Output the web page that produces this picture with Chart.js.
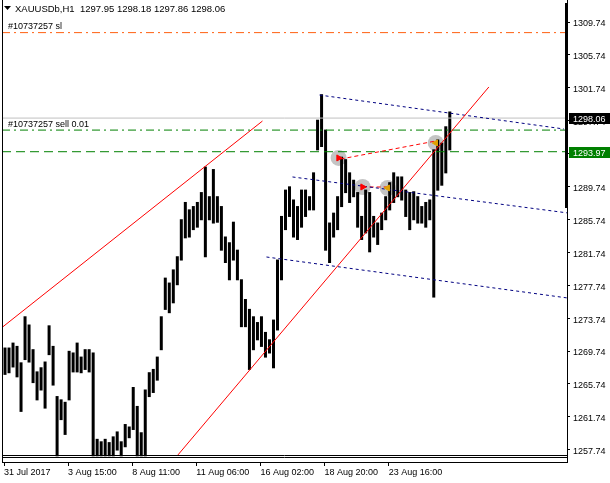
<!DOCTYPE html>
<html>
<head>
<meta charset="utf-8">
<script src="https://cdn.jsdelivr.net/npm/chart.js@4.4.1/dist/chart.umd.min.js"></script>
<style>
  html, body { margin: 0; padding: 0; background: #fff; }
</style>
</head>
<body>
<canvas id="priceChart" width="610" height="483"></canvas>
<script>
// time axis
const timeLabels = ['31 Jul 2017', '3 Aug 15:00', '8 Aug 11:00', '11 Aug 06:00', '16 Aug 02:00', '18 Aug 20:00', '23 Aug 16:00'];
const slotCount = 141;
const labelStep = 16;

// price range of each 4-bar slot
const barHigh = [
  1270.1, 1270.1, 1270.7, 1270.3, 1268.3, 1273.9, 1272.9, 1269.9, 1267.2, 1267.7,
  1268.4, 1272.8, 1270.3, 1264.2, 1263.8, 1263.5, 1269.7, 1269.5, 1270.7, 1269.0,
  1269.9, 1269.9, 1269.5, 1259.0, 1258.7, 1259.0, 1258.6, 1259.3, 1259.9, 1258.7,
  1260.8, 1260.5, 1265.3, 1263.0, 1259.8, 1265.0, 1267.1, 1267.5, 1269.0, 1273.9,
  1278.6, 1278.0, 1279.6, 1281.2, 1285.7, 1287.8, 1286.9, 1287.3, 1287.8, 1289.0,
  1292.1, 1288.5, 1291.8, 1288.5, 1287.3, 1283.6, 1282.9, 1285.4, 1282.0, 1278.4,
  1276.0, 1274.8, 1273.9, 1273.2, 1273.9, 1272.0, 1271.1, 1273.5, 1280.8, 1286.1,
  1289.3, 1289.7, 1288.1, 1287.3, 1289.3, 1289.3, 1288.5, 1291.4, 1297.8, 1300.9,
  1296.6, 1285.3, 1286.5, 1288.5, 1293.3, 1293.0, 1291.4, 1290.5, 1289.0, 1286.1,
  1289.3, 1289.0, 1286.1, 1285.3, 1286.5, 1288.5, 1290.2, 1291.4, 1290.9, 1290.9,
  1289.3, 1289.0, 1289.1, 1288.5, 1287.3, 1287.8, 1288.1, 1294.2, 1295.4, 1295.0,
  1297.0, 1298.8
];
const barLow = [
  1266.9, 1267.1, 1267.8, 1266.6, 1262.4, 1268.7, 1268.4, 1265.9, 1263.8, 1265.0,
  1262.8, 1269.3, 1265.6, 1257.0, 1261.4, 1259.6, 1263.8, 1267.2, 1267.2, 1267.1,
  1267.5, 1267.2, 1257.0, 1257.0, 1257.0, 1257.0, 1257.0, 1257.0, 1257.7, 1257.0,
  1258.1, 1259.2, 1260.2, 1257.0, 1257.0, 1257.0, 1264.2, 1264.7, 1266.2, 1269.9,
  1274.8, 1274.4, 1275.6, 1277.8, 1280.8, 1283.5, 1283.6, 1284.5, 1284.8, 1285.7,
  1281.2, 1285.7, 1285.3, 1285.4, 1282.0, 1280.5, 1278.4, 1280.8, 1278.4, 1272.7,
  1272.7, 1267.5, 1269.9, 1271.1, 1270.3, 1269.0, 1269.5, 1267.7, 1272.3, 1278.4,
  1284.5, 1286.1, 1283.6, 1283.3, 1284.8, 1286.1, 1286.9, 1286.9, 1294.2, 1294.6,
  1282.0, 1280.5, 1283.6, 1284.5, 1287.3, 1289.0, 1287.8, 1288.5, 1284.8, 1283.3,
  1284.1, 1281.8, 1283.6, 1282.7, 1284.5, 1285.7, 1286.9, 1287.8, 1288.5, 1288.1,
  1286.1, 1284.5, 1285.7, 1285.3, 1285.3, 1284.8, 1285.7, 1276.3, 1289.3, 1289.9,
  1291.4, 1294.2
];

const yTicks = [1257.74, 1261.74, 1265.74, 1269.74, 1273.74, 1277.74, 1281.74, 1285.74,
                1289.74, 1293.74, 1297.74, 1301.74, 1305.74, 1309.74];

// order lines
const slPrice = 1308.45;
const sellPrice = 1296.6;
const bidPrice = 1298.06;
const levelPrice = 1293.97;

// drawn objects, endpoints as [slot, price]
const upperRed = [{ x: -0.5, y: 1272.6 }, { x: 64.5, y: 1297.7 }];
const lowerRed = [{ x: 43.4, y: 1257.1 }, { x: 121, y: 1301.84 }];
const blueTop = [{ x: 78.75, y: 1300.86 }, { x: 139.75, y: 1296.73 }];
const blueMid = [{ x: 72, y: 1290.9 }, { x: 140.75, y: 1286.52 }];
const blueLow = [{ x: 65.5, y: 1281.17 }, { x: 140.75, y: 1276.18 }];
const tradeA = [{ x: 84, y: 1293.08 }, { x: 107.75, y: 1295.27 }];
const tradeB = [{ x: 89.5, y: 1289.68 }, { x: 95.75, y: 1289.68 }];
const entries = [{ x: 83.5, y: 1293.21 }, { x: 89.5, y: 1289.68 }];
const exits = [{ x: 95.75, y: 1289.56 }, { x: 107.75, y: 1295.03 }];

const labels = [];
for (let i = 0; i < slotCount; i++) {
    const t = i % labelStep === 0 ? timeLabels[i / labelStep] : undefined;
    labels.push(t || '');
}
const span = (v) => [{ x: -0.5, y: v }, { x: slotCount - 0.5, y: v }];

function line(data, color, dash, order) {
    return {
        type: 'line',
        data: data,
        xAxisID: 'x2',
        borderColor: color,
        borderWidth: 1,
        borderDash: dash,
        pointRadius: 0,
        fill: false,
        order: order
    };
}

const FONT = '"Liberation Sans", Arial, sans-serif';

const frame = {
    id: 'frame',
    afterDraw(chart) {
        const { ctx, chartArea: a, scales: { y } } = chart;
        ctx.save();
        ctx.strokeStyle = '#000';
        ctx.lineWidth = 1;
        ctx.beginPath();
        ctx.moveTo(a.left + 0.5, 0);
        ctx.lineTo(a.left + 0.5, a.bottom);
        ctx.moveTo(a.left, a.bottom - 6.5);
        ctx.lineTo(a.right, a.bottom - 6.5);
        ctx.moveTo(a.left, a.bottom - 4.5);
        ctx.lineTo(a.right, a.bottom - 4.5);
        ctx.stroke();
        ctx.fillStyle = '#000';
        ctx.fillRect(a.right - 2, 3, 3, 205);

        // header
        ctx.beginPath();
        ctx.moveTo(4, 6);
        ctx.lineTo(11, 6);
        ctx.lineTo(7.5, 10);
        ctx.closePath();
        ctx.fill();
        ctx.font = '9.5px ' + FONT;
        ctx.textBaseline = 'alphabetic';
        ctx.fillText('XAUUSDb,H1  1297.95 1298.18 1297.86 1298.06', 15, 12);
        ctx.font = '9px ' + FONT;
        ctx.fillText('#10737257 sl', 8, y.getPixelForValue(slPrice) - 4);
        ctx.fillText('#10737257 sell 0.01', 8, y.getPixelForValue(sellPrice) - 3);

        // price tags
        [[bidPrice, '#000000'], [levelPrice, '#008000']].forEach(([p, c]) => {
            const py = Math.round(y.getPixelForValue(p));
            ctx.fillStyle = c;
            ctx.fillRect(a.right + 2, py - 5, chart.width - a.right - 2, 11);
            ctx.fillStyle = '#fff';
            ctx.fillText(p.toFixed(2), a.right + 6, py + 4);
        });
        ctx.restore();
    }
};

new Chart(document.getElementById('priceChart'), {
    type: 'bar',
    data: {
        labels: labels,
        datasets: [
            line(span(slPrice), '#ff6010', [8, 4, 2, 4], 2),
            line(span(bidPrice), '#c0c0c0', [], 3),
            line(span(sellPrice), '#008000', [8, 4, 2, 4], 2),
            line(span(levelPrice), '#008000', [9, 5], 2),
            line(upperRed, '#ff0000', [], 1),
            line(lowerRed, '#ff0000', [], 1),
            line(blueTop, '#000080', [3, 3], 1),
            line(blueMid, '#000080', [3, 3], 1),
            line(blueLow, '#000080', [3, 3], 1),
            line(tradeA, '#ff0000', [4, 3], 1),
            line(tradeB, '#ff0000', [4, 3], 1),
            {
                type: 'scatter',
                data: entries.concat(exits),
                xAxisID: 'x2',
                pointRadius: 8,
                pointBackgroundColor: '#c4c4c4',
                pointBorderWidth: 0,
                order: 20
            },
            {
                type: 'scatter',
                data: entries,
                xAxisID: 'x2',
                pointStyle: 'triangle',
                rotation: 90,
                pointRadius: 3.5,
                pointBackgroundColor: '#ff0000',
                pointBorderColor: '#ff0000',
                order: 0
            },
            {
                type: 'scatter',
                data: exits,
                xAxisID: 'x2',
                pointStyle: 'triangle',
                rotation: -90,
                pointRadius: 3.5,
                pointBackgroundColor: '#e0a000',
                pointBorderColor: '#e0a000',
                order: 0
            },
            {
                label: 'XAUUSDb',
                data: barLow.map((l, i) => [l, barHigh[i]]),
                backgroundColor: '#000',
                borderWidth: 0,
                barPercentage: 1,
                categoryPercentage: 1,
                inflateAmount: 0.5,
                minBarLength: 1,
                order: 10
            }
        ]
    },
    options: {
        responsive: false,
        animation: false,
        layout: { autoPadding: false, padding: { left: 2, top: 0, right: 0, bottom: 0 } },
        scales: {
            x: {
                offset: true,
                grid: { display: true, drawOnChartArea: false, offset: false, tickLength: 4, color: '#000' },
                border: { display: true, color: '#000' },
                ticks: {
                    autoSkip: false,
                    maxRotation: 0,
                    align: 'start',
                    padding: 1,
                    color: '#000',
                    font: { family: FONT, size: 9 }
                },
                afterBuildTicks: (s) => {
                    s.ticks = s.ticks.filter(t => labels[t.value] !== '');
                },
                afterFit: (s) => {
                    s.height = 21;
                    s.paddingLeft = 0;
                    s.paddingRight = 0;
                }
            },
            x2: {
                type: 'linear',
                display: false,
                offset: false,
                min: -0.5,
                max: slotCount - 0.5
            },
            y: {
                position: 'right',
                min: 1256.245,
                max: 1312.415,
                grid: { display: true, drawOnChartArea: false, tickLength: 3, color: '#000' },
                border: { display: true, color: '#000' },
                ticks: {
                    padding: 3,
                    labelOffset: 2,
                    color: '#000',
                    font: { family: FONT, size: 9 },
                    callback: (v) => Number(v).toFixed(2)
                },
                afterBuildTicks: (s) => {
                    s.ticks = yTicks.map(v => ({ value: v }));
                },
                afterFit: (s) => {
                    s.width = 43;
                    s.paddingTop = 0;
                    s.paddingBottom = 0;
                }
            }
        },
        plugins: {
            legend: { display: false },
            tooltip: { enabled: false }
        }
    },
    plugins: [frame]
});
</script>
</body>
</html>
